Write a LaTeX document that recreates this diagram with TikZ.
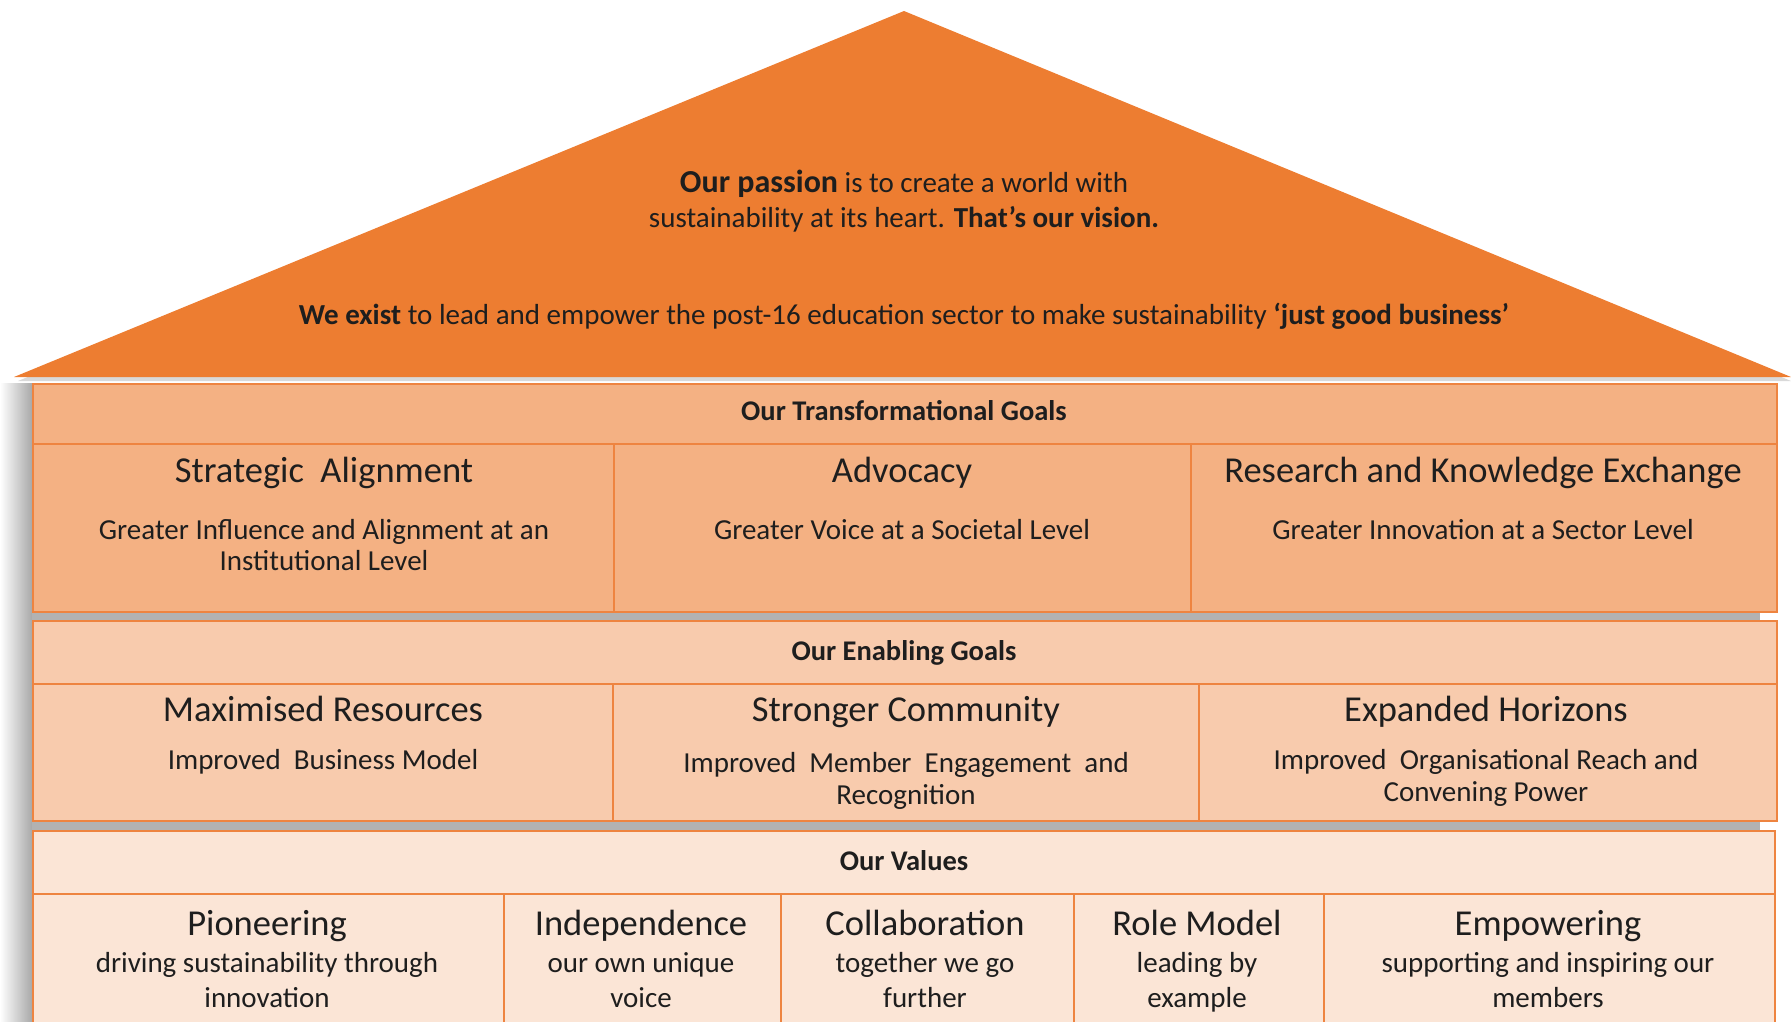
\documentclass[tikz,border=0pt]{standalone}
\usepackage{fontspec}
\setmainfont{Carlito}
\definecolor{roofc}{HTML}{ED7D31}
\definecolor{bandA}{HTML}{F4B183}
\definecolor{bandB}{HTML}{F8CBAD}
\definecolor{bandC}{HTML}{FBE5D6}
\definecolor{edgec}{HTML}{EE8440}
\definecolor{txtc}{HTML}{1E1E1E}
\begin{document}
\begin{tikzpicture}[x=1pt,y=-1pt,
  cell/.style={draw=edgec, line width=2pt, inner sep=0pt, anchor=north west},
  hdr/.style={font=\fontsize{28.5}{32}\selectfont\bfseries, text=txtc, anchor=base, inner sep=0pt},
  ttl/.style={font=\fontsize{36.5}{40}\selectfont, text=txtc, anchor=base, inner sep=0pt},
  sub/.style={font=\fontsize{29}{#1}\selectfont, text=txtc, align=center, anchor=base, inner sep=0pt},
  sub/.default=31,
  rooftxt/.style={font=\fontsize{29}{35}\selectfont, text=txtc, align=center, anchor=base, inner sep=0pt}]
\useasboundingbox (0,0) rectangle (1791,1021);
% left shadow
\shade[left color=white, right color=black!35] (0,383) rectangle (33,1021);
% band shadows
\fill[black!30] (32,611) rectangle (1760,621);
\fill[black!30] (32,820) rectangle (1760,831);
% roof
\fill[black!15] (18,381) -- (904,15) -- (1791,381) -- cycle;
\fill[roofc] (14,377) -- (904,11) -- (1791,377) -- cycle;
% (multi-line nodes: base anchor = baseline of last line)
\node[rooftxt] (vision) at (904,227) {{\fontsize{32}{35}\selectfont\bfseries Our passion} is to create a world with\\ sustainability at its heart. \textbf{That’s our vision.}};
\node[rooftxt] (exist) at (904,324) {\textbf{We exist} to lead and empower the post-16 education sector to make sustainability \textbf{‘just good business’}};
% band 1
\node[cell, fill=bandA, minimum width=1744, minimum height=60] (h1) at (32,383) {};
\node[hdr] (h1t) at (904,420) {Our Transformational Goals};
\node[cell, fill=bandA, minimum width=581, minimum height=168] (c11) at (32,443) {};
\node[cell, fill=bandA, minimum width=577, minimum height=168] (c12) at (613,443) {};
\node[cell, fill=bandA, minimum width=586, minimum height=168] (c13) at (1190,443) {};
\node[ttl] (t11) at (324,482) {Strategic\ \ Alignment};
\node[sub] (s11) at (324,570) {Greater Influence and Alignment at an\\ Institutional Level};
\node[ttl] (t12) at (902,482) {Advocacy};
\node[sub] (s12) at (902,539) {Greater Voice at a Societal Level};
\node[ttl] (t13) at (1483,482) {Research and Knowledge Exchange};
\node[sub] (s13) at (1483,539) {Greater Innovation at a Sector Level};
% band 2
\node[cell, fill=bandB, minimum width=1744, minimum height=63] (h2) at (32,620) {};
\node[hdr] (h2t) at (904,660) {Our Enabling Goals};
\node[cell, fill=bandB, minimum width=580, minimum height=137] (c21) at (32,683) {};
\node[cell, fill=bandB, minimum width=586, minimum height=137] (c22) at (612,683) {};
\node[cell, fill=bandB, minimum width=578, minimum height=137] (c23) at (1198,683) {};
\node[ttl] (t21) at (323,721) {Maximised Resources};
\node[sub] (s21) at (323,769) {Improved\ \ Business Model};
\node[ttl] (t22) at (906,721) {Stronger Community};
\node[sub=32] (s22) at (906,804) {Improved\ \ Member\ \ Engagement\ \ and\\ Recognition};
\node[ttl] (t23) at (1486,721) {Expanded Horizons};
\node[sub=32] (s23) at (1486,801) {Improved\ \ Organisational Reach and\\ Convening Power};
% band 3
\node[cell, fill=bandC, minimum width=1742, minimum height=63] (h3) at (32,830) {};
\node[hdr] (h3t) at (904,870) {Our Values};
\node[cell, fill=bandC, minimum width=471, minimum height=140] (c31) at (32,893) {};
\node[cell, fill=bandC, minimum width=277, minimum height=140] (c32) at (503,893) {};
\node[cell, fill=bandC, minimum width=293, minimum height=140] (c33) at (780,893) {};
\node[cell, fill=bandC, minimum width=250, minimum height=140] (c34) at (1073,893) {};
\node[cell, fill=bandC, minimum width=451, minimum height=140] (c35) at (1323,893) {};
\node[ttl] (t31) at (267,935) {Pioneering};
\node[sub=35] (s31) at (267,1007) {driving sustainability through\\ innovation};
\node[ttl] (t32) at (641,935) {Independence};
\node[sub=35] (s32) at (641,1007) {our own unique\\ voice};
\node[ttl] (t33) at (925,935) {Collaboration};
\node[sub=35] (s33) at (925,1007) {together we go\\ further};
\node[ttl] (t34) at (1197,935) {Role Model};
\node[sub=35] (s34) at (1197,1007) {leading by\\ example};
\node[ttl] (t35) at (1548,935) {Empowering};
\node[sub=35] (s35) at (1548,1007) {supporting and inspiring our\\ members};
\end{tikzpicture}
\end{document}
